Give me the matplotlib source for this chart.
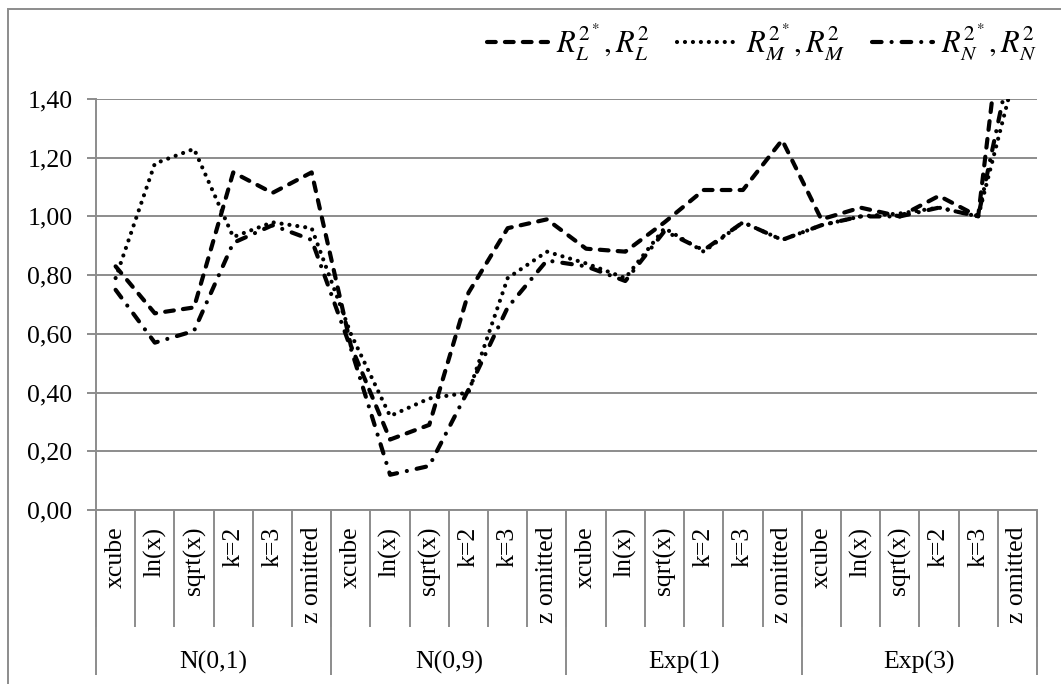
import matplotlib
matplotlib.use("Agg")
import matplotlib.pyplot as plt
from matplotlib.lines import Line2D
from matplotlib.patches import Rectangle
from matplotlib.ticker import FuncFormatter
import numpy as np

plt.rcParams['font.family'] = ['Liberation Serif', 'DejaVu Serif']
plt.rcParams['mathtext.fontset'] = 'stix'

groups = ['N(0,1)', 'N(0,9)', 'Exp(1)', 'Exp(3)']
methods = ['xcube', 'ln(x)', 'sqrt(x)', 'k=2', 'k=3', 'z omitted']

# one value per method, groups in the order above
r2_L = [0.83, 0.67, 0.69, 1.15, 1.08, 1.15,
        0.56, 0.24, 0.29, 0.74, 0.96, 0.99,
        0.89, 0.88, 0.98, 1.09, 1.09, 1.26,
        0.99, 1.03, 1.00, 1.07, 1.00, 2.12]
r2_M = [0.79, 1.18, 1.23, 0.93, 0.98, 0.96,
        0.60, 0.32, 0.38, 0.40, 0.79, 0.88,
        0.84, 0.79, 0.96, 0.88, 0.98, 0.92,
        0.97, 1.00, 1.01, 1.03, 1.00, 1.52]
r2_N = [0.75, 0.57, 0.61, 0.91, 0.97, 0.92,
        0.55, 0.12, 0.15, 0.41, 0.69, 0.85,
        0.83, 0.78, 0.95, 0.885, 0.98, 0.92,
        0.97, 1.00, 1.00, 1.03, 1.00, 1.63]

labels = [r'$R_L^{2^*},R_L^2$', r'$R_M^{2^*},R_M^2$', r'$R_N^{2^*},R_N^2$']
styles = [(0, (2.1, 2.2)), (0, (0.01, 1.9)), (0, (2.3, 2.4, 0.01, 2.4))]

W, H = 1061, 684
grey = '#8c8c8c'
fs = 18.5
lw = 3.0

fig = plt.figure(figsize=(W / 100, H / 100), dpi=100)
ax = fig.add_axes([96 / W, 174 / H, 941 / W, 411 / H])

n = len(groups) * len(methods)
x = np.arange(n)
handles = []
for vals, ls in zip([r2_L, r2_M, r2_N], styles):
    ax.plot(x, vals, color='black', lw=lw, linestyle=ls,
            dash_capstyle='round', dash_joinstyle='round')
    handles.append(Line2D([], [], color='black', lw=lw, linestyle=ls,
                          dash_capstyle='round'))

ax.set_xlim(-0.5, n - 0.5)
ax.set_ylim(0, 1.4)
ax.set_yticks(np.arange(0, 1.41, 0.2))
ax.yaxis.set_major_formatter(FuncFormatter(lambda v, p: f'{v:.2f}'.replace('.', ',')))
ax.grid(axis='y', color=grey, lw=1.4)
ax.set_axisbelow(True)

for side in ['top', 'right']:
    ax.spines[side].set_visible(False)
for side in ['left', 'bottom']:
    ax.spines[side].set_color(grey)
    ax.spines[side].set_linewidth(1.4)

ax.set_xticks(x, methods * len(groups), rotation=90)
ax.set_xticks(np.arange(-0.5, n, 1.0), minor=True)
ax.tick_params(axis='x', which='major', length=0, pad=12, labelsize=fs)
ax.tick_params(axis='x', which='minor', length=84, width=1.4, color=grey)
ax.tick_params(axis='y', length=6.5, width=1.4, color=grey, pad=10.5, labelsize=fs)

# group separators and group names under the category labels
k = len(methods)
xt = ax.get_xaxis_transform()
ax.vlines(np.arange(-0.5, n, k), -165 / 411, 0, transform=xt, color=grey,
          lw=1.4, clip_on=False)
for i, g in enumerate(groups):
    ax.text(i * k + (k - 1) / 2, -152 / 411, g, transform=xt, ha='center',
            va='center', fontsize=fs)

fig.legend(handles, labels, loc='center', bbox_to_anchor=(762 / W, 1 - 42 / H),
           ncol=3, frameon=False, fontsize=22, handlelength=2.0,
           handletextpad=0.25, columnspacing=0.9)

fig.patches.append(Rectangle((8 / W, -0.1), 1.2, (H - 9) / H + 0.1,
                             transform=fig.transFigure, fill=False,
                             ec=grey, lw=1.4))

fig.savefig('out.png', dpi=100)
